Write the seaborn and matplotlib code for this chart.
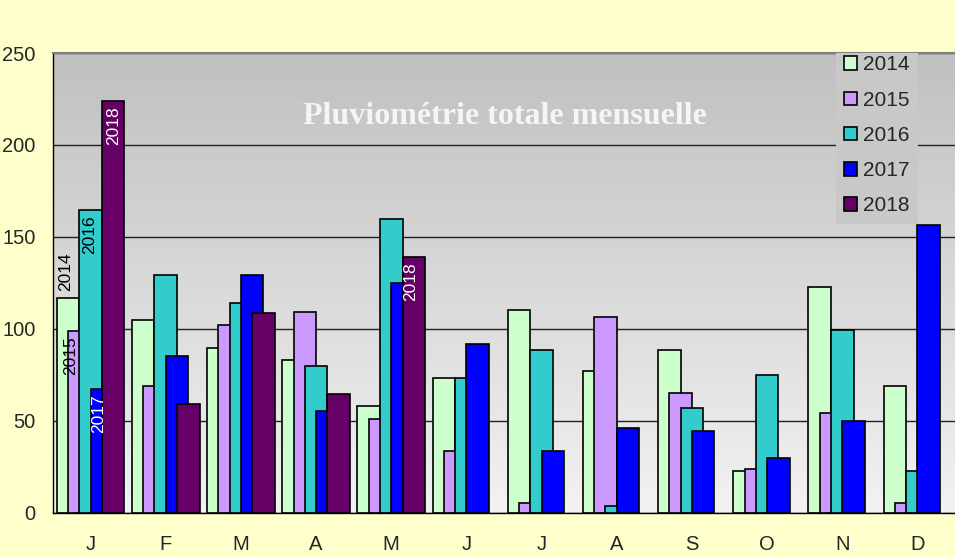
import numpy as np
import pandas as pd
import matplotlib
matplotlib.use("Agg")
import matplotlib.pyplot as plt
from matplotlib.colors import LinearSegmentedColormap
import seaborn as sns

# monthly rainfall totals (mm)
months = ["J", "F", "M", "A", "M", "J", "J", "A", "S", "O", "N", "D"]
years = ["2014", "2015", "2016", "2017", "2018"]
r2014 = [116.8, 104.9, 89.8, 83.3, 58.0, 73.2, 110.3, 77.0, 88.6, 22.8, 122.8, 68.8]
r2015 = [98.9, 69.0, 102.2, 109.4, 50.9, 33.7, 5.6, 106.7, 65.4, 23.7, 54.5, 5.6]
r2016 = [164.7, 129.3, 114.0, 79.7, 160.0, 73.2, 88.6, 4.0, 57.2, 75.2, 99.5, 22.8]
r2017 = [67.4, 85.3, 129.3, 55.4, 125.0, 91.7, 33.7, 46.4, 44.6, 30.1, 50.0, 156.3]
r2018 = [223.9, 59.0, 108.5, 64.5, 139.3]
colors = ["#CCFFCC", "#CC99FF", "#33CCCC", "#0000FF", "#660066"]

STEP = 0.15  # offset between overlapping series, bars are 2 steps wide

rows = []
for k, (yr, vals) in enumerate(zip(years, [r2014, r2015, r2016, r2017, r2018])):
    for i, v in enumerate(vals):
        rows.append({"pos": i + (k - 2) * STEP, "pluie": v, "annee": yr})
df = pd.DataFrame(rows)

sns.set_theme(style="white")
plt.rcParams["font.family"] = ["Liberation Sans", "DejaVu Sans"]

fig = plt.figure(figsize=(9.55, 5.57), dpi=100, facecolor="#FFFFCC")
ax = fig.add_axes([53 / 955, 44 / 557, 902 / 955, 460 / 557])

# grey gradient behind the bars
grad = LinearSegmentedColormap.from_list("bg", ["#C0C0C0", "#F2F2F2"])
ax.imshow(np.linspace(0, 1, 256).reshape(-1, 1), cmap=grad, aspect="auto",
          extent=[0, 1, 0, 1], transform=ax.transAxes, zorder=-1)

sns.barplot(data=df, x="pos", y="pluie", hue="annee", hue_order=years,
            palette=dict(zip(years, colors)), native_scale=True, dodge=False,
            width=2, saturation=1, errorbar=None, edgecolor="black",
            linewidth=1.2, legend=False, ax=ax)

ax.set_xlim(-0.5, 11.44)
ax.set_ylim(0, 250)
ax.set_yticks(range(0, 251, 50))
ax.set_xticks(np.arange(-0.5, 12, 1))
ax.set_xticklabels([])
ax.set_xticks(range(12), labels=months, minor=True)
ax.tick_params(axis="x", which="major", direction="out", length=4.5, width=1, color="black")
ax.tick_params(axis="x", which="minor", length=0, pad=16, labelsize=14.5)
ax.tick_params(axis="y", direction="out", length=7, width=1, color="black", pad=5.5, labelsize=14.5)
ax.set_xlabel("")
ax.set_ylabel("")

ax.set_axisbelow(True)
ax.yaxis.grid(True, color="#202020", linewidth=1.0)
ax.xaxis.grid(False)
for side in ["left", "bottom"]:
    ax.spines[side].set_color("black")
    ax.spines[side].set_linewidth(1.0)
ax.spines["top"].set_color("#808080")
ax.spines["top"].set_linewidth(1.5)
ax.spines["right"].set_visible(False)

# year labels on the January bars and on May 2018
def year_label(bar, txt, color, dx, above=False):
    x = bar.get_x() + bar.get_width() / 2
    y = bar.get_height()
    ax.annotate(txt, (x, y), xytext=(dx, 5 if above else -4), textcoords="offset points",
                rotation=90, ha="center", va="bottom" if above else "top",
                fontsize=12.5, color=color)

bars = ax.containers
year_label(bars[0][0], "2014", "black", -2, above=True)
year_label(bars[1][0], "2015", "black", -6)
year_label(bars[2][0], "2016", "black", -1)
year_label(bars[3][0], "2017", "white", -2)
year_label(bars[4][0], "2018", "white", 0)
year_label(bars[4][4], "2018", "white", -2)

ax.text(0.501, 0.862, "Pluviométrie totale mensuelle", transform=ax.transAxes,
        ha="center", va="center", fontsize=23, fontweight="bold",
        family=["Liberation Serif", "DejaVu Serif"], color="#F5F5F5")

handles = [plt.Rectangle((0, 0), 1, 1, facecolor=c, edgecolor="black", linewidth=1.2)
           for c in colors]
leg = ax.legend(handles, years, loc="upper left", bbox_to_anchor=(0.868, 1.013),
                fontsize=15, frameon=True, fancybox=False, framealpha=1,
                facecolor="#C8C8C8", edgecolor="none", handlelength=0.62,
                handleheight=0.62, handletextpad=0.3, labelspacing=0.78,
                borderpad=0.4, borderaxespad=0)
frame = leg.get_frame()
frame.set_clip_box(ax.bbox)
frame.set_clip_on(True)

fig.savefig("out.png", dpi=100, facecolor=fig.get_facecolor())
